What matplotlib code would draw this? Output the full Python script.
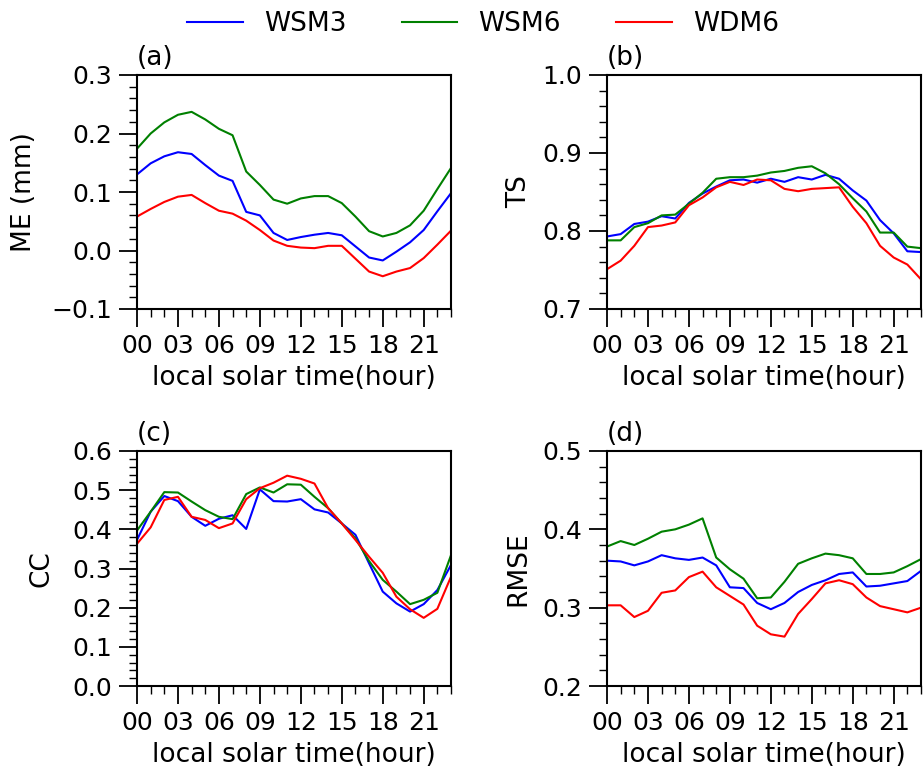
import numpy as np
import matplotlib
matplotlib.use("Agg")
import matplotlib.pyplot as plt
from matplotlib.ticker import MultipleLocator

hours = list(range(24))
xtick_labels = ["00", "03", "06", "09", "12", "15", "18", "21"]
series_names = ["WSM3", "WSM6", "WDM6"]
series_colors = ["blue", "green", "red"]

# (a) ME (mm)
me_wsm3 = [0.130, 0.149, 0.161, 0.168, 0.165, 0.146, 0.128, 0.119, 0.066, 0.060, 0.030, 0.018,
           0.023, 0.027, 0.030, 0.026, 0.007, -0.012, -0.017, -0.002, 0.014, 0.035, 0.067, 0.098]
me_wsm6 = [0.174, 0.200, 0.219, 0.232, 0.237, 0.224, 0.208, 0.197, 0.135, 0.112, 0.087, 0.080,
           0.089, 0.093, 0.093, 0.081, 0.058, 0.033, 0.024, 0.030, 0.043, 0.068, 0.105, 0.141]
me_wdm6 = [0.058, 0.071, 0.083, 0.092, 0.095, 0.081, 0.068, 0.063, 0.051, 0.035, 0.017, 0.008,
           0.005, 0.004, 0.008, 0.008, -0.014, -0.036, -0.044, -0.036, -0.030, -0.013, 0.010, 0.034]

# (b) TS
ts_wsm3 = [0.793, 0.796, 0.809, 0.812, 0.819, 0.816, 0.836, 0.848, 0.857, 0.865, 0.866, 0.862,
           0.867, 0.863, 0.869, 0.866, 0.872, 0.867, 0.852, 0.839, 0.814, 0.797, 0.774, 0.773]
ts_wsm6 = [0.788, 0.788, 0.805, 0.810, 0.820, 0.821, 0.835, 0.849, 0.867, 0.869, 0.869, 0.871,
           0.875, 0.877, 0.881, 0.883, 0.874, 0.860, 0.842, 0.825, 0.798, 0.798, 0.780, 0.778]
ts_wdm6 = [0.751, 0.762, 0.781, 0.805, 0.807, 0.811, 0.833, 0.843, 0.856, 0.863, 0.859, 0.866,
           0.865, 0.854, 0.851, 0.854, 0.855, 0.856, 0.831, 0.810, 0.781, 0.766, 0.757, 0.738]

# (c) CC
cc_wsm3 = [0.373, 0.445, 0.485, 0.472, 0.432, 0.409, 0.427, 0.436, 0.401, 0.502, 0.472, 0.471,
           0.477, 0.451, 0.443, 0.415, 0.386, 0.313, 0.241, 0.211, 0.190, 0.209, 0.245, 0.309]
cc_wsm6 = [0.397, 0.445, 0.495, 0.494, 0.471, 0.449, 0.432, 0.426, 0.490, 0.507, 0.494, 0.515,
           0.514, 0.483, 0.454, 0.415, 0.377, 0.319, 0.271, 0.241, 0.209, 0.220, 0.238, 0.334]
cc_wdm6 = [0.363, 0.405, 0.475, 0.483, 0.432, 0.424, 0.403, 0.415, 0.477, 0.505, 0.519, 0.537,
           0.529, 0.517, 0.454, 0.415, 0.373, 0.330, 0.289, 0.228, 0.196, 0.174, 0.197, 0.279]

# (d) RMSE
rmse_wsm3 = [0.360, 0.359, 0.354, 0.359, 0.367, 0.363, 0.361, 0.364, 0.354, 0.326, 0.325, 0.306,
             0.298, 0.306, 0.320, 0.329, 0.335, 0.343, 0.345, 0.327, 0.328, 0.331, 0.334, 0.347]
rmse_wsm6 = [0.378, 0.385, 0.380, 0.388, 0.397, 0.400, 0.406, 0.414, 0.364, 0.349, 0.337, 0.312,
             0.313, 0.333, 0.356, 0.363, 0.369, 0.367, 0.363, 0.343, 0.343, 0.345, 0.353, 0.362]
rmse_wdm6 = [0.303, 0.303, 0.288, 0.296, 0.319, 0.322, 0.339, 0.346, 0.326, 0.315, 0.304, 0.277,
             0.266, 0.263, 0.292, 0.311, 0.331, 0.335, 0.330, 0.313, 0.302, 0.298, 0.294, 0.300]

panels = [
    ("(a)", "ME (mm)", (-0.1, 0.3), [me_wsm3, me_wsm6, me_wdm6]),
    ("(b)", "TS", (0.7, 1.0), [ts_wsm3, ts_wsm6, ts_wdm6]),
    ("(c)", "CC", (0.0, 0.6), [cc_wsm3, cc_wsm6, cc_wdm6]),
    ("(d)", "RMSE", (0.2, 0.5), [rmse_wsm3, rmse_wsm6, rmse_wdm6]),
]

W, H = 924, 767
fig = plt.figure(figsize=(W / 100, H / 100), dpi=100)

boxes = [(137, 75, 451, 309), (607, 75, 921, 309), (137, 451, 451, 686), (607, 451, 921, 686)]
ylabel_x = [-0.32, -0.24, -0.262, -0.24]
FS = 18

handles = []
for i, ((lab, ylab, ylim, data), (x0, y0, x1, y1)) in enumerate(zip(panels, boxes)):
    ax = fig.add_axes([x0 / W, 1 - y1 / H, (x1 - x0) / W, (y1 - y0) / H])
    for vals, name, col in zip(data, series_names, series_colors):
        ln, = ax.plot(hours, vals, color=col, lw=1.5, label=name)
        if i == 0:
            handles.append(ln)
    ax.set_xlim(0, 23)
    ax.set_ylim(*ylim)
    ax.set_xticks(list(range(0, 24, 3)))
    ax.set_xticklabels(xtick_labels)
    ax.xaxis.set_minor_locator(MultipleLocator(1))
    ax.yaxis.set_major_locator(MultipleLocator(0.1))
    ax.yaxis.set_minor_locator(MultipleLocator(0.02))
    ax.tick_params(which="major", direction="out", length=13, width=1.3, labelsize=FS, pad=5)
    ax.tick_params(which="minor", direction="out", length=6, width=1.0)
    for sp in ax.spines.values():
        sp.set_linewidth(1.5)
    ax.set_xlabel("local solar time(hour)", fontsize=FS + 1, labelpad=5)
    ax.set_ylabel(ylab, fontsize=FS + 1)
    ax.yaxis.set_label_coords(ylabel_x[i], 0.5)
    ax.set_title(lab, loc="left", fontsize=FS + 1, pad=7)

fig.legend(handles, series_names, loc="center", bbox_to_anchor=(483 / W, 1 - 24 / H),
           ncol=3, frameon=False, fontsize=FS + 1, handlelength=2.1,
           handletextpad=0.8, columnspacing=2.1)

fig.savefig("out.png", dpi=100)
